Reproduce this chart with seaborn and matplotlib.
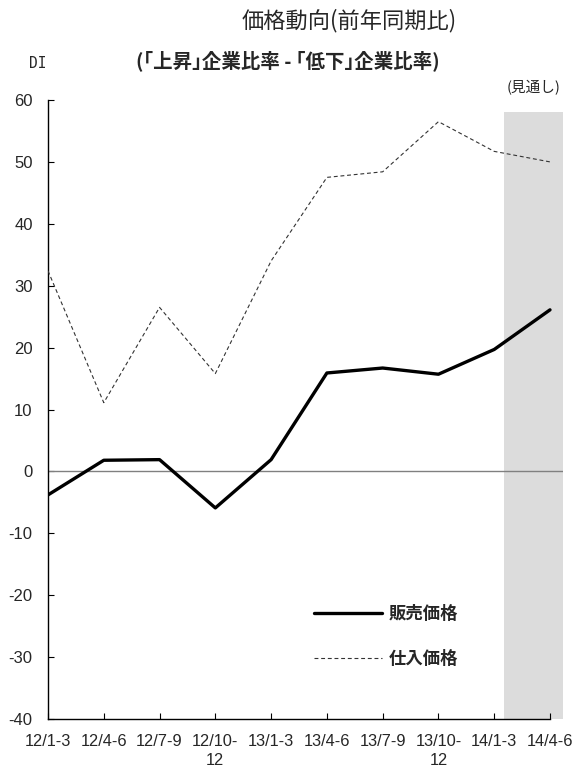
import matplotlib
matplotlib.use("Agg")
import matplotlib.pyplot as plt
import seaborn as sns
import pandas as pd
from matplotlib.lines import Line2D

sns.set_theme(style="white")
plt.rcParams['font.family'] = ['Liberation Sans', 'Noto Sans CJK JP', 'DejaVu Sans']

periods = ["12/1-3", "12/4-6", "12/7-9", "12/10-\n12", "13/1-3", "13/4-6",
           "13/7-9", "13/10-\n12", "14/1-3", "14/4-6"]
sales_price = [-3.8, 1.8, 1.9, -5.9, 1.9, 15.9, 16.7, 15.7, 19.7, 26.1]
purchase_price = [32.4, 11.1, 26.5, 15.8, 34.0, 47.5, 48.4, 56.5, 51.7, 50.0]
series_names = ["販売価格", "仕入価格"]
yticks = [-40, -30, -20, -10, 0, 10, 20, 30, 40, 50, 60]

idx = list(range(len(periods)))
df = pd.DataFrame({
    "x": idx * 2,
    "value": sales_price + purchase_price,
    "series": [series_names[0]] * len(idx) + [series_names[1]] * len(idx),
})

fig = plt.figure(figsize=(5.77, 7.67), dpi=100)
ax = fig.add_axes([48 / 577, 48 / 767, 515 / 577, 619 / 767])

# forecast shading
ax.axvspan(8.175, 9.233, ymin=0, ymax=(58.0 + 40) / 100, color="#dcdcdc", lw=0, zorder=0)
ax.axhline(0, color="#808080", lw=1.0, zorder=1)

sns.lineplot(data=df[df.series == series_names[0]], x="x", y="value", ax=ax,
             color="black", lw=2.4, legend=False, zorder=3)
sns.lineplot(data=df[df.series == series_names[1]], x="x", y="value", ax=ax,
             color="#333333", lw=0.8, legend=False, zorder=3, dashes=False)
ax.lines[-1].set_linestyle((0, (3.5, 2.5)))

ax.set_xlim(0, 9.233)
ax.set_ylim(-40, 60)
ax.set_xticks(idx)
ax.set_xticklabels(periods, fontsize=11.8, linespacing=1.35)
ax.set_yticks(yticks)
ax.set_yticklabels([str(v) for v in yticks], fontsize=12)
ax.set_xlabel("")
ax.set_ylabel("")
ax.tick_params(axis="both", direction="in", length=4, width=0.8, color="black",
               bottom=True, left=True)
ax.tick_params(axis="y", pad=11)
ax.tick_params(axis="x", pad=10.5)
for s in ["top", "right"]:
    ax.spines[s].set_visible(False)
for s in ["left", "bottom"]:
    ax.spines[s].set_color("black")
    ax.spines[s].set_linewidth(1.0)
ax.spines["bottom"].set_bounds(0, 9)

handles = [Line2D([0], [0], color="black", lw=2.4),
           Line2D([0], [0], color="#333333", lw=0.8, ls=(0, (3.5, 2.5)))]
leg = ax.legend(handles, series_names, loc="upper left",
                bbox_to_anchor=(0.487, 0.209), frameon=False,
                handlelength=3.9, handletextpad=0.4, labelspacing=1.55,
                prop={"family": ["Noto Sans CJK JP"], "weight": "bold", "size": 12.5})

fig.text(0.605, 0.973, "価格動向(前年同期比)", ha="center", va="center",
         fontsize=16, family=["Noto Sans CJK JP"])
fig.text(0.499, 0.921, "(｢上昇｣企業比率 - ｢低下｣企業比率)", ha="center", va="center",
         fontsize=14, weight="bold", family=["Noto Sans CJK JP"])
fig.text(38 / 577, 1 - 63 / 767, "DI", ha="center", va="center", fontsize=10.5,
         family=["DejaVu Sans Mono"])
fig.text(534 / 577, 1 - 88 / 767, "(見通し)", ha="center", va="center", fontsize=10.5,
         family=["Noto Sans CJK JP"])

fig.savefig("out.png", dpi=100)
